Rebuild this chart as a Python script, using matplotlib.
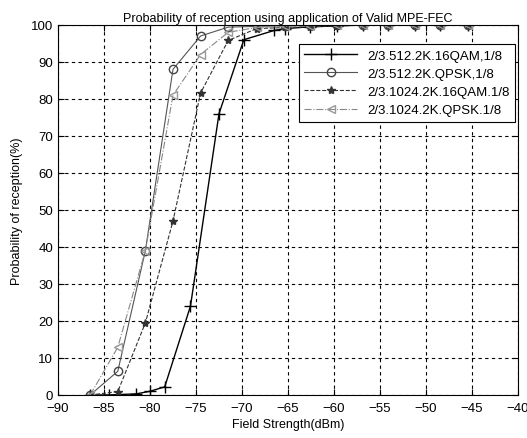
import matplotlib
matplotlib.use("Agg")
import matplotlib.pyplot as plt
import numpy as np

plt.rcParams["font.family"] = ["Liberation Sans", "DejaVu Sans"]
plt.rcParams["font.size"] = 9

# valeurs
x_512_16qam = [-86.5, -84.5, -81.5, -80.0, -78.4, -75.6, -72.5, -69.8, -66.5, -65.3,
               -62.6, -59.7, -56.8, -54.1, -51.2, -48.5, -45.4]
y_512_16qam = [0, 0, 0.3, 1, 2.2, 24, 76, 96, 98.5, 99, 99.5, 99.7, 100, 100, 100, 100, 100]

x_common = [-86.5, -83.5, -80.5, -77.5, -74.5, -71.5, -68.4, -65.3, -62.6, -59.7,
            -56.8, -54.1, -51.2, -48.5, -45.4]
y_512_qpsk = [0, 6.4, 39, 88, 97, 99.4, 99.6, 99.8, 100, 100, 100, 100, 100, 100, 100]
y_1024_16qam = [0, 0.9, 19.5, 47, 81.6, 95.8, 99, 99.3, 99.5, 99.7, 100, 100, 100, 100, 100]
y_1024_qpsk = [0, 12.9, 39, 81, 92, 98, 99.3, 99.6, 99.8, 100, 100, 100, 100, 100, 100]

labels = ["2/3.512.2K.16QAM,1/8", "2/3.512.2K.QPSK,1/8",
          "2/3.1024.2K.16QAM.1/8", "2/3.1024.2K.QPSK.1/8"]

fig = plt.figure(figsize=(5.27, 4.39), dpi=100)
ax = fig.add_axes([0.110, 0.098, 0.873, 0.843])

ax.plot(x_512_16qam, y_512_16qam, color="black", lw=1.0, marker="+", ms=8,
        label=labels[0])
ax.plot(x_common, y_512_qpsk, color="#555555", lw=0.8, marker="o", ms=6,
        mfc="none", mec="#444444", label=labels[1])
ax.plot(x_common, y_1024_16qam, color="#333333", lw=0.8, ls="--", marker="*", ms=6,
        label=labels[2])
ax.plot(x_common, y_1024_qpsk, color="#888888", lw=0.8, ls="-.", marker="<", ms=6,
        mfc="none", mec="#999999", label=labels[3])

ax.set_xlim(-90, -40)
ax.set_ylim(0, 100)
ax.set_xticks(np.arange(-90, -39, 5))
ax.set_yticks(np.arange(0, 101, 10))
ax.grid(True, color="black", ls=(0, (3, 3)), lw=0.8)
ax.tick_params(direction="in", top=True, right=True, length=4, labelsize=9.5)
ax.tick_params(axis="x", pad=5)
for s in ax.spines.values():
    s.set_linewidth(0.8)

ax.set_title("Probability of reception using application of Valid MPE-FEC", fontsize=9, pad=3)
ax.set_xlabel("Field Strength(dBm)", labelpad=3)
ax.set_ylabel("Probability of reception(%)", labelpad=6)

leg = ax.legend(loc="upper right", bbox_to_anchor=(1.0, 0.955), fancybox=False,
                edgecolor="black", framealpha=1, fontsize=9.5, handlelength=4,
                borderaxespad=0.2, labelspacing=0.45)
leg.get_frame().set_linewidth(0.8)

fig.savefig("out.png", dpi=100)
